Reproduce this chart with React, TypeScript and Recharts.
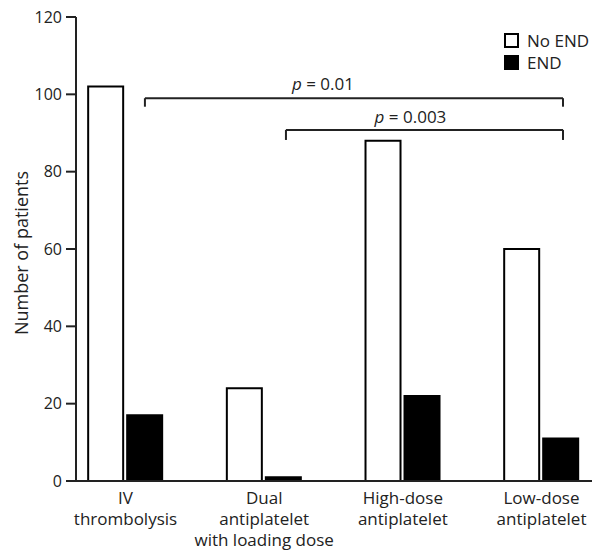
import React from 'react'
import { BarChart, Bar, XAxis, YAxis, Legend, ReferenceLine, ReferenceDot, Label } from 'recharts'

// categories split into the lines they are printed on
const categories = [
  ['IV', 'thrombolysis'],
  ['Dual', 'antiplatelet', 'with loading dose'],
  ['High-dose', 'antiplatelet'],
  ['Low-dose', 'antiplatelet'],
]
const noEnd = [102, 24, 88, 60]
const end = [17, 1, 22, 11]
const yTicks = [0, 20, 40, 60, 80, 100, 120]

// significance brackets (x in category index units, y in patients)
const brackets = [
  { p: '0.01', from: 0.14, to: 3.155, y: 99, drop: 2.2, textX: 1.424, textY: 101.1 },
  { p: '0.003', from: 1.157, to: 3.155, y: 90.8, drop: 2.6, textX: 2.055, textY: 92.6 },
]

const legendItems = [
  { name: 'No END', fill: '#fff' },
  { name: 'END', fill: '#000' },
]

const data = categories.map((_, i) => ({ idx: i, noEnd: noEnd[i], end: end[i] }))

const FONT = '"Open Sans", sans-serif'
const INK = '#222'

function CategoryTick(props: any) {
  const { x, y, payload } = props
  const lines = categories[payload.value] ?? []
  return (
    <text x={x} y={y} textAnchor="middle" fill={INK} fontSize={17} fontFamily={FONT}>
      {lines.map((line, i) => (
        <tspan key={i} x={x} dy={i === 0 ? 15 : 21}>
          {line}
        </tspan>
      ))}
    </text>
  )
}

function pLabel(text: string) {
  return (props: any) => {
    const vb = props.viewBox || {}
    const cx = vb.x + (vb.width || 0) / 2
    const cy = vb.y + (vb.height || 0) / 2
    return (
      <text x={cx} y={cy} textAnchor="middle" fill={INK} fontSize={17} fontFamily={FONT}>
        <tspan fontStyle="italic">p</tspan> = {text}
      </text>
    )
  }
}

function LegendBox() {
  return (
    <div style={{ fontFamily: FONT, fontSize: 17, color: INK }}>
      {legendItems.map((item) => (
        <div key={item.name} style={{ display: 'flex', alignItems: 'center', height: 22 }}>
          <span
            style={{
              width: 15,
              height: 15,
              boxSizing: 'border-box',
              border: '2px solid #000',
              background: item.fill,
              marginRight: 8,
            }}
          />
          <span>{item.name}</span>
        </div>
      ))}
    </div>
  )
}

export default function App() {
  return (
    <div style={{ position: 'absolute', left: 0, top: 0, background: '#fff' }}>
      <BarChart
        width={592}
        height={552}
        data={data}
        margin={{ top: 17, right: 0, bottom: 0, left: 0 }}
        barSize={35}
        barGap={4}
        style={{ fontFamily: FONT }}
      >
        <XAxis
          dataKey="idx"
          type="number"
          domain={[-0.357, 3.364]}
          ticks={[0, 1, 2, 3]}
          allowDataOverflow
          height={71}
          tickLine={false}
          axisLine={{ stroke: INK, strokeWidth: 2 }}
          tick={<CategoryTick />}
          interval={0}
        />
        <YAxis
          domain={[0, 120]}
          ticks={yTicks}
          width={76}
          tickSize={10}
          tickMargin={4}
          axisLine={{ stroke: INK, strokeWidth: 2 }}
          tickLine={{ stroke: INK, strokeWidth: 2 }}
          tick={{ fill: INK, fontSize: 16, fontFamily: FONT }}
        >
          <Label
            content={() => (
              <text
                x={21}
                y={253}
                transform="rotate(-90 21 253)"
                textAnchor="middle"
                dominantBaseline="central"
                fill={INK}
                fontSize={18}
                fontFamily={FONT}
              >
                Number of patients
              </text>
            )}
          />
        </YAxis>
        <Legend
          layout="vertical"
          align="center"
          verticalAlign="middle"
          wrapperStyle={{ left: 504, top: 29, width: 'auto' }}
          content={<LegendBox />}
        />
        <Bar dataKey="noEnd" name="No END" fill="#fff" stroke="#000" strokeWidth={2} isAnimationActive={false} />
        <Bar dataKey="end" name="END" fill="#000" stroke="#000" strokeWidth={2} isAnimationActive={false} />
        {brackets.map((b) => (
          <ReferenceLine
            key={b.p + 'h'}
            segment={[{ x: b.from, y: b.y }, { x: b.to, y: b.y }]}
            stroke={INK}
            strokeWidth={2}
            ifOverflow="visible"
          />
        ))}
        {brackets.map((b) => (
          <ReferenceLine
            key={b.p + 'l'}
            segment={[{ x: b.from, y: b.y }, { x: b.from, y: b.y - b.drop }]}
            stroke={INK}
            strokeWidth={2}
            ifOverflow="visible"
          />
        ))}
        {brackets.map((b) => (
          <ReferenceLine
            key={b.p + 'r'}
            segment={[{ x: b.to, y: b.y }, { x: b.to, y: b.y - b.drop }]}
            stroke={INK}
            strokeWidth={2}
            ifOverflow="visible"
          />
        ))}
        {brackets.map((b) => (
          <ReferenceDot
            key={b.p + 't'}
            x={b.textX}
            y={b.textY}
            r={0}
            fill="none"
            stroke="none"
            ifOverflow="visible"
            label={{ content: pLabel(b.p) }}
          />
        ))}
      </BarChart>
    </div>
  )
}
